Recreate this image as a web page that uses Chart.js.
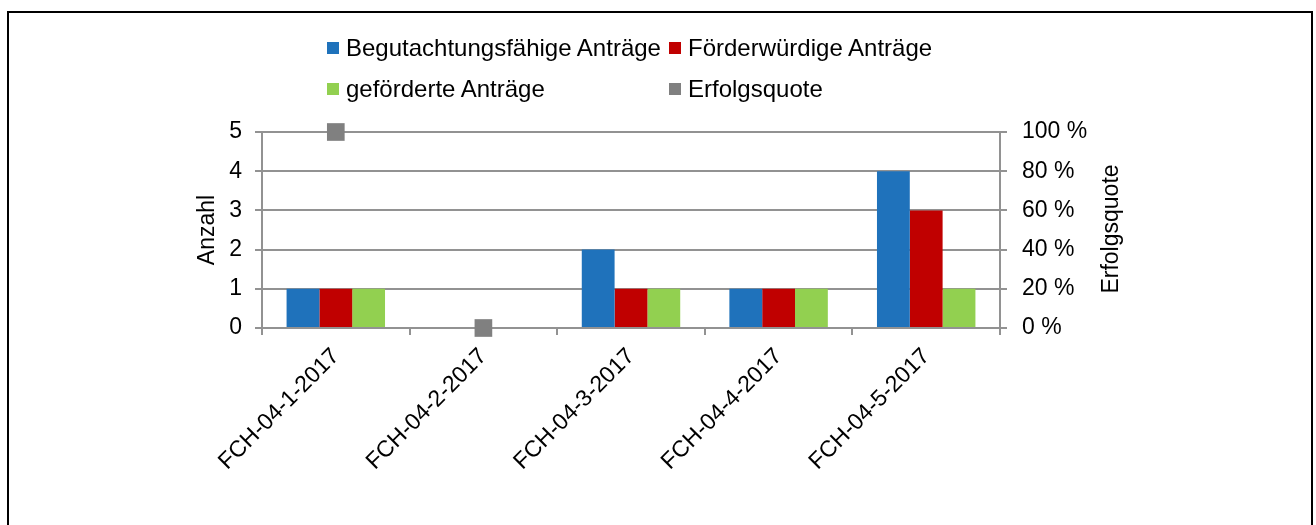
<!DOCTYPE html>
<html>
<head>
<meta charset="utf-8">
<script src="https://cdn.jsdelivr.net/npm/chart.js@4/dist/chart.umd.min.js"></script>
<style>
  html, body { margin: 0; padding: 0; background: #fff; overflow: hidden; }
  #wrap { position: relative; width: 1316px; height: 525px; font-family: "Liberation Sans", Arial, sans-serif; }
  #frame { position: absolute; left: 7px; top: 11px; width: 1302px; height: 600px; border: 2px solid #000; }
  #chart { position: absolute; left: 0; top: 0; }
  .leg { position: absolute; font-size: 24px; line-height: 26px; color: #000; white-space: nowrap; }
  .box { position: absolute; width: 12px; height: 12px; }
</style>
</head>
<body>
<div id="wrap">
  <div id="frame"></div>
  <canvas id="chart" width="1316" height="525"></canvas>
  <div id="legend"></div>
</div>
<script>
// Daten
var kategorien = ['FCH-04-1-2017', 'FCH-04-2-2017', 'FCH-04-3-2017', 'FCH-04-4-2017', 'FCH-04-5-2017'];
var begutachtungsfaehig = [1, 0, 2, 1, 4];
var foerderwuerdig = [1, 0, 1, 1, 3];
var gefoerdert = [1, 0, 1, 1, 1];
var erfolgsquote = [100, 0, null, null, null];

var gridFarbe = '#929292';
var schrift = { family: '"Liberation Sans", Arial, sans-serif', size: 23 };

// Achsentitel (beide von unten nach oben gelesen)
var achsenTitel = {
    id: 'achsenTitel',
    afterDraw: function (chart) {
        var ctx = chart.ctx;
        ctx.save();
        ctx.font = '23px "Liberation Sans", Arial, sans-serif';
        ctx.fillStyle = '#000';
        ctx.textAlign = 'center';
        ctx.textBaseline = 'middle';
        [['Anzahl', 208, 230], ['Erfolgsquote', 1112, 229]].forEach(function (t) {
            ctx.save();
            ctx.translate(t[1], t[2]);
            ctx.rotate(-Math.PI / 2);
            ctx.fillText(t[0], 0, 0);
            ctx.restore();
        });
        ctx.restore();
    }
};

var chart = new Chart(document.getElementById('chart'), {
    type: 'bar',
    data: {
        labels: kategorien,
        datasets: [{
            label: 'Begutachtungsfähige Anträge',
            data: begutachtungsfaehig,
            backgroundColor: '#1f72bb',
            yAxisID: 'y'
        }, {
            label: 'Förderwürdige Anträge',
            data: foerderwuerdig,
            backgroundColor: '#c00000',
            yAxisID: 'y'
        }, {
            label: 'geförderte Anträge',
            data: gefoerdert,
            backgroundColor: '#92d050',
            yAxisID: 'y'
        }, {
            type: 'line',
            label: 'Erfolgsquote',
            data: erfolgsquote,
            showLine: false,
            pointStyle: 'rect',
            pointRadius: 12.5,
            pointHoverRadius: 12.5,
            pointBorderWidth: 0,
            backgroundColor: '#808080',
            borderColor: '#808080',
            yAxisID: 'y1',
            clip: false,
            order: -1
        }]
    },
    options: {
        responsive: false,
        animation: false,
        layout: { padding: { top: 132, left: 0, right: 0, bottom: 0 } },
        datasets: { bar: { categoryPercentage: 0.667, barPercentage: 1 } },
        plugins: { legend: { display: false }, tooltip: { enabled: false } },
        scales: {
            x: {
                afterFit: function (s) { s.height = 197; },
                grid: { drawOnChartArea: false, color: gridFarbe, lineWidth: 2, tickLength: 7 },
                border: { color: gridFarbe, width: 2 },
                ticks: { color: '#000', font: schrift, maxRotation: 45, minRotation: 45, padding: 8 }
            },
            y: {
                position: 'left',
                min: 0, max: 5,
                afterFit: function (s) { s.width = 262; },
                grid: { color: gridFarbe, lineWidth: 2, tickLength: 7 },
                border: { color: gridFarbe, width: 2 },
                ticks: { color: '#000', font: schrift, stepSize: 1, padding: 13 }
            },
            y1: {
                position: 'right',
                min: 0, max: 100,
                afterFit: function (s) { s.width = 316; },
                grid: { drawOnChartArea: false, color: gridFarbe, lineWidth: 2, tickLength: 7 },
                border: { color: gridFarbe, width: 2 },
                ticks: {
                    color: '#000', font: schrift, stepSize: 20, padding: 15,
                    callback: function (v) { return v + ' %'; }
                }
            }
        }
    },
    plugins: [achsenTitel]
});

// Legende in zwei Spalten wie im Original
var legPos = [[327, 48], [669, 48], [327, 89], [669, 89]];
var legend = document.getElementById('legend');
chart.data.datasets.forEach(function (ds, i) {
    var p = legPos[i];
    var box = document.createElement('div');
    box.className = 'box';
    box.style.left = p[0] + 'px';
    box.style.top = (p[1] - 6) + 'px';
    box.style.background = ds.backgroundColor;
    legend.appendChild(box);
    var txt = document.createElement('div');
    txt.className = 'leg';
    txt.style.left = (p[0] + 19) + 'px';
    txt.style.top = (p[1] - 13) + 'px';
    txt.textContent = ds.label;
    legend.appendChild(txt);
});
</script>
</body>
</html>
